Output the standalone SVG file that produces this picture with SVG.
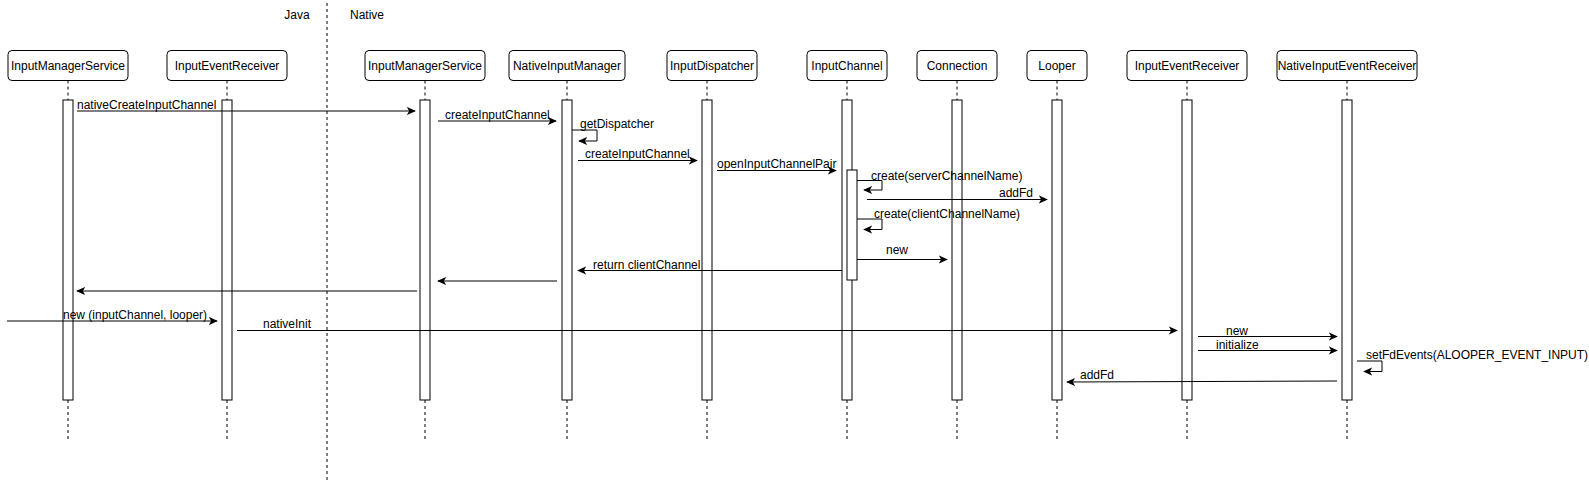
<svg xmlns="http://www.w3.org/2000/svg" width="1589" height="482" viewBox="0 0 1589 482">
<style>
text{font-family:"Liberation Sans",Arial,sans-serif;font-size:12px;fill:#000}
.hd{fill:#fff;stroke:#000;stroke-width:1}
.act{fill:#fff;stroke:#000;stroke-width:1}
.ll{stroke:#000;stroke-width:1;stroke-dasharray:3 3;fill:none}
.msg{stroke:#000;stroke-width:1;fill:none;marker-end:url(#arr)}
.c{text-anchor:middle}
</style>
<defs>
<marker id="arr" viewBox="0 0 10 10" refX="9" refY="5" markerWidth="9" markerHeight="9" markerUnits="userSpaceOnUse" orient="auto">
<path d="M0,0.5 L10,5 L0,9.5 L2.5,5 z" fill="#000"/>
</marker>
</defs>
<rect width="1589" height="482" fill="#fff"/>
<g id="separator">
<line x1="327" y1="3" x2="327" y2="482" class="ll"/>
<text x="297" y="18.5" class="c">Java</text>
<text x="367" y="18.5" class="c">Native</text>
</g>
<g id="node-ims-java">
<rect class="hd" x="8" y="50.5" width="120" height="30" rx="4"/>
<text x="68" y="69.5" class="c">InputManagerService</text>
<line class="ll" x1="68" y1="80.5" x2="68" y2="100"/><line class="ll" x1="68" y1="400" x2="68" y2="441"/>
<rect class="act" x="63" y="100" width="10" height="300"/>
</g>
<g id="node-ier-java">
<rect class="hd" x="167" y="50.5" width="120" height="30" rx="4"/>
<text x="227" y="69.5" class="c">InputEventReceiver</text>
<line class="ll" x1="227" y1="80.5" x2="227" y2="100"/><line class="ll" x1="227" y1="400" x2="227" y2="441"/>
<rect class="act" x="222" y="100" width="10" height="300"/>
</g>
<g id="node-ims-native">
<rect class="hd" x="365" y="50.5" width="120" height="30" rx="4"/>
<text x="425" y="69.5" class="c">InputManagerService</text>
<line class="ll" x1="425" y1="80.5" x2="425" y2="100"/><line class="ll" x1="425" y1="400" x2="425" y2="441"/>
<rect class="act" x="420" y="100" width="10" height="300"/>
</g>
<g id="node-nim">
<rect class="hd" x="509" y="50.5" width="116" height="30" rx="4"/>
<text x="567" y="69.5" class="c">NativeInputManager</text>
<line class="ll" x1="567" y1="80.5" x2="567" y2="100"/><line class="ll" x1="567" y1="400" x2="567" y2="441"/>
<rect class="act" x="562" y="100" width="10" height="300"/>
</g>
<g id="node-dispatcher">
<rect class="hd" x="667" y="50.5" width="90" height="30" rx="4"/>
<text x="712" y="69.5" class="c">InputDispatcher</text>
<line class="ll" x1="707" y1="80.5" x2="707" y2="100"/><line class="ll" x1="707" y1="400" x2="707" y2="441"/>
<rect class="act" x="702" y="100" width="10" height="300"/>
</g>
<g id="node-channel">
<rect class="hd" x="807" y="50.5" width="80" height="30" rx="4"/>
<text x="847" y="69.5" class="c">InputChannel</text>
<line class="ll" x1="847" y1="80.5" x2="847" y2="100"/><line class="ll" x1="847" y1="400" x2="847" y2="441"/>
<rect class="act" x="842" y="100" width="10" height="300"/>
<rect class="act" x="847" y="170" width="10" height="110"/>
</g>
<g id="node-connection">
<rect class="hd" x="917" y="50.5" width="80" height="30" rx="4"/>
<text x="957" y="69.5" class="c">Connection</text>
<line class="ll" x1="957" y1="80.5" x2="957" y2="100"/><line class="ll" x1="957" y1="400" x2="957" y2="441"/>
<rect class="act" x="952" y="100" width="10" height="300"/>
</g>
<g id="node-looper">
<rect class="hd" x="1027" y="50.5" width="60" height="30" rx="4"/>
<text x="1057" y="69.5" class="c">Looper</text>
<line class="ll" x1="1057" y1="80.5" x2="1057" y2="100"/><line class="ll" x1="1057" y1="400" x2="1057" y2="441"/>
<rect class="act" x="1052" y="100" width="10" height="300"/>
</g>
<g id="node-ier-native">
<rect class="hd" x="1127" y="50.5" width="120" height="30" rx="4"/>
<text x="1187" y="69.5" class="c">InputEventReceiver</text>
<line class="ll" x1="1187" y1="80.5" x2="1187" y2="100"/><line class="ll" x1="1187" y1="400" x2="1187" y2="441"/>
<rect class="act" x="1182" y="100" width="10" height="300"/>
</g>
<g id="node-nier">
<rect class="hd" x="1277" y="50.5" width="140" height="30" rx="4"/>
<text x="1347" y="69.5" class="c">NativeInputEventReceiver</text>
<line class="ll" x1="1347" y1="80.5" x2="1347" y2="100"/><line class="ll" x1="1347" y1="400" x2="1347" y2="441"/>
<rect class="act" x="1342" y="100" width="10" height="300"/>
</g>
<g id="connectors">
<path class="msg" d="M77,111 H415"/>
<text x="77" y="108.5">nativeCreateInputChannel</text>
<path class="msg" d="M438,121 H556"/>
<text x="445" y="118.5">createInputChannel</text>
<path class="msg" d="M572,130 H597 V141 H579"/>
<text x="580" y="128">getDispatcher</text>
<path class="msg" d="M578,160.5 H697"/>
<text x="585" y="158">createInputChannel</text>
<path class="msg" d="M717,170.5 H836"/>
<text x="717" y="168">openInputChannelPair</text>
<path class="msg" d="M857,180.5 H882 V190 H864"/>
<text x="871" y="179.5">create(serverChannelName)</text>
<path class="msg" d="M867,199.5 H1047"/>
<text x="1033" y="197" text-anchor="end">addFd</text>
<path class="msg" d="M857,219 H882 V229.5 H864"/>
<text x="874" y="217.5">create(clientChannelName)</text>
<path class="msg" d="M857,259.5 H947"/>
<text x="897" y="253.5" class="c">new</text>
<path class="msg" d="M842,270.5 H578"/>
<text x="593" y="268.5">return clientChannel</text>
<path class="msg" d="M557,281 H438"/>
<path class="msg" d="M417,291 H77"/>
<path class="msg" d="M7,321 H217"/>
<text x="63" y="319">new (inputChannel, looper)</text>
<path class="msg" d="M237,330.5 H1177"/>
<text x="263" y="328">nativeInit</text>
<path class="msg" d="M1198,336.5 H1337"/>
<text x="1226" y="335">new</text>
<path class="msg" d="M1198,350.5 H1337"/>
<text x="1216" y="349">initialize</text>
<path class="msg" d="M1357,361 H1382 V371.5 H1364"/>
<text x="1366" y="358.5">setFdEvents(ALOOPER_EVENT_INPUT)</text>
<path class="msg" d="M1337,381 L1067,382"/>
<text x="1080" y="379">addFd</text>
</g>
</svg>
